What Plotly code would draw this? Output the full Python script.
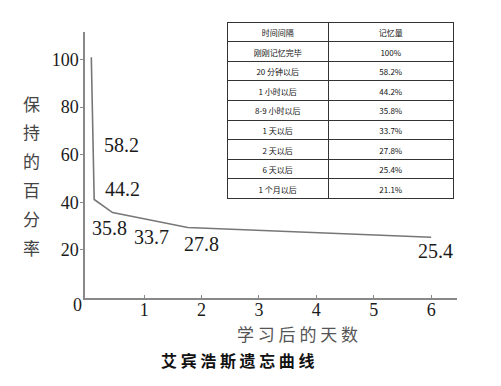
import plotly.graph_objects as go

# ---- data ----
curve_days = [0.08, 0.13, 0.45, 1.76, 6.0]
curve_retention = [101, 41.2, 35.7, 29.4, 25.3]

label_values = ["58.2", "44.2", "35.8", "33.7", "27.8", "25.4"]
label_days = [0.61, 0.63, 0.40, 1.13, 2.00, 6.08]
label_heights = [63.9, 45.4, 29.4, 25.6, 22.3, 19.7]

x_ticks = [1, 2, 3, 4, 5, 6]
y_ticks = [20, 40, 60, 80, 100]

table_header = ["时间间隔", "记忆量"]
table_intervals = ["刚刚记忆完毕", "20 分钟以后", "1 小时以后", "8-9 小时以后",
                   "1 天以后", "2 天以后", "6 天以后", "1 个月以后"]
table_amounts = ["100%", "58.2%", "44.2%", "35.8%", "33.7%", "27.8%", "25.4%", "21.1%"]

y_title = "保持的百分率"
x_title = "学习后的天数"
caption = "艾宾浩斯遗忘曲线"

W, H = 501, 386
SERIF = "Liberation Serif"
CJK = "Noto Sans CJK SC"

fig = go.Figure()

fig.add_trace(go.Scatter(
    x=curve_days, y=curve_retention, mode="lines",
    line=dict(color="#777777", width=1.6),
    hoverinfo="skip", showlegend=False,
))

fig.add_trace(go.Table(
    domain=dict(x=[227 / W, 453 / W], y=[1 - 201 / H, 1 - 22 / H]),
    columnwidth=[101, 124],
    header=dict(values=table_header, height=19.6,
                fill_color="white", line=dict(color="#333333", width=1),
                font=dict(family=CJK, size=8, color="#111111"), align="center"),
    cells=dict(values=[table_intervals, table_amounts], height=19.6,
               fill_color="white", line=dict(color="#333333", width=1),
               font=dict(family=CJK, size=8, color="#111111"), align="center"),
))

annotations = []
for v, xd, yd in zip(label_values, label_days, label_heights):
    annotations.append(dict(x=xd, y=yd, xref="x", yref="y", text=v, showarrow=False,
                            xanchor="center", yanchor="middle",
                            font=dict(family=SERIF, size=20, color="#1a1a1a")))


def paper_text(px, py, text, font):
    return dict(x=px / W, y=1 - py / H, xref="paper", yref="paper", text=text,
                showarrow=False, xanchor="center", yanchor="middle", font=font)


# corner zero
annotations.append(paper_text(77, 305, "0", dict(family=SERIF, size=18, color="#1a1a1a")))

# vertical y title, one character per line
for i, ch in enumerate(y_title):
    annotations.append(paper_text(31, 103 + 28.8 * i, ch,
                                  dict(family=CJK, size=17, color="#444444")))

annotations.append(paper_text(297, 333, " ".join(x_title),
                              dict(family=CJK, size=17, color="#555555")))
annotations.append(paper_text(237, 360, "<b>" + " ".join(caption) + "</b>",
                              dict(family=CJK, size=16, color="#111111")))

fig.update_layout(
    width=W, height=H,
    margin=dict(l=0, r=0, t=0, b=0),
    paper_bgcolor="white", plot_bgcolor="white",
    showlegend=False,
    annotations=annotations,
    xaxis=dict(domain=[85 / W, 457 / W], range=[-0.03, 6.45],
               tickvals=x_ticks, ticks="inside", ticklen=3, tickcolor="#888888",
               ticklabelstandoff=-5,
               showgrid=False, zeroline=False,
               showline=True, linecolor="#888888", linewidth=1.5,
               tickfont=dict(family=SERIF, size=18, color="#1a1a1a")),
    yaxis=dict(domain=[1 - 297.5 / H, 1 - 32 / H], range=[0, 111.6],
               tickvals=y_ticks, ticks="outside", ticklen=3, tickcolor="#888888",
               ticklabelstandoff=-2,
               showgrid=False, zeroline=False,
               showline=True, linecolor="#888888", linewidth=1.5,
               tickfont=dict(family=SERIF, size=18, color="#1a1a1a")),
)

fig.write_html("out.html")
